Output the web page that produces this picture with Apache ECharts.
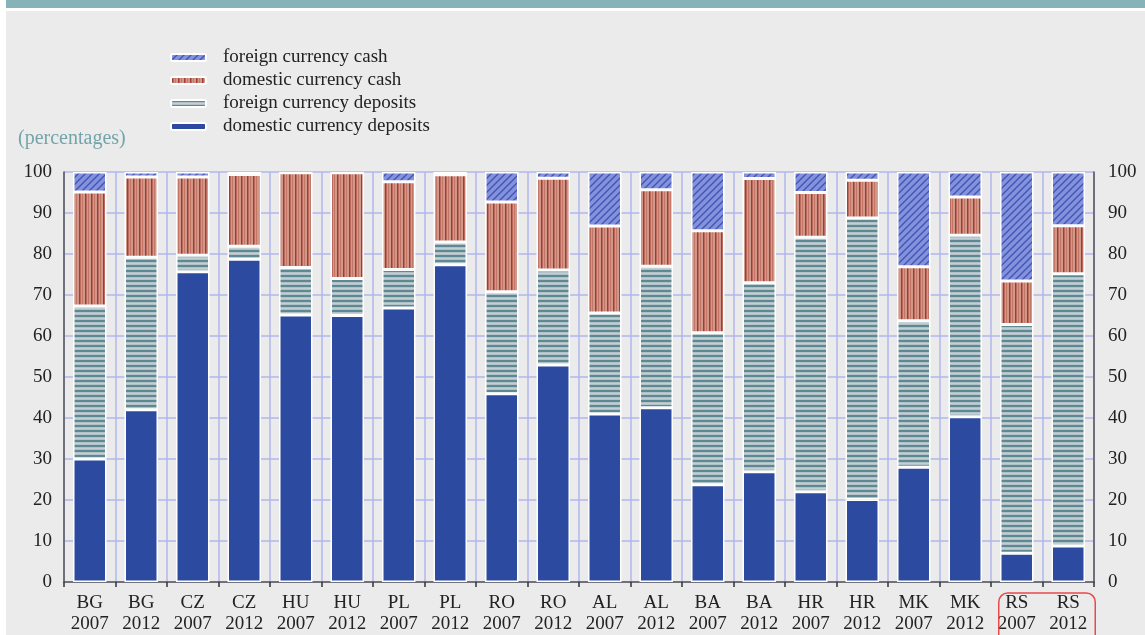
<!DOCTYPE html>
<html>
<head>
<meta charset="utf-8">
<script src="https://cdn.jsdelivr.net/npm/echarts@6/dist/echarts.min.js"></script>
<style>
html,body{margin:0;padding:0;background:#ebebeb;}
#chart{width:1145px;height:635px;}
</style>
</head>
<body>
<div id="chart"></div>
<script>
const categories = ['BG\n2007','BG\n2012','CZ\n2007','CZ\n2012','HU\n2007','HU\n2012','PL\n2007','PL\n2012','RO\n2007','RO\n2012',
  'AL\n2007','AL\n2012','BA\n2007','BA\n2012','HR\n2007','HR\n2012','MK\n2007','MK\n2012','RS\n2007','RS\n2012'];
const domesticDeposits = [30.0, 42.0, 75.7, 78.7, 65.1, 65.0, 66.8, 77.4, 45.9, 52.9, 41.0, 42.5, 23.7, 26.9, 22.0, 20.1, 28.0, 40.3, 7.0, 8.8];
const foreignDeposits  = [37.3, 37.2,  4.0,  3.2, 11.6,  9.0,  9.4,  5.5, 24.9, 23.2, 24.6, 34.5, 37.1, 46.1, 62.1, 68.7, 35.7, 44.3, 55.8, 66.4];
const domesticCash     = [27.8, 19.6, 19.1, 17.5, 23.1, 25.8, 21.4, 16.4, 21.9, 22.4, 21.2, 18.7, 24.9, 25.4, 10.9,  9.2, 13.2,  9.3, 10.6, 11.7];
const foreignCash      = [ 4.9,  1.2,  1.2,  0.6,  0.0,  0.0,  2.4,  0.7,  7.3,  1.5, 13.2,  4.3, 14.3,  1.6,  5.0,  2.0, 23.1,  6.1, 26.6, 13.1];
const yTicks = {min: 0, max: 100, interval: 10};
const seriesNames = ['domestic currency deposits','foreign currency deposits','domestic currency cash','foreign currency cash'];

function mkCanvas(w, h, draw) {
  const c = document.createElement('canvas');
  c.width = w; c.height = h;
  draw(c.getContext('2d'));
  return c;
}
const patFC = mkCanvas(7, 7, g => {
  g.fillStyle = '#8491db'; g.fillRect(0, 0, 7, 7);
  g.strokeStyle = '#3e53b6'; g.lineWidth = 1.3;
  g.beginPath();
  g.moveTo(-1, 8); g.lineTo(8, -1);
  g.moveTo(-4, 4); g.lineTo(4, -4);
  g.moveTo(3, 11); g.lineTo(11, 3);
  g.stroke();
});
const patDC = mkCanvas(6, 4, g => {
  g.fillStyle = '#d0988a'; g.fillRect(0, 0, 6, 4);
  g.fillStyle = '#a63a2f'; g.fillRect(1, 0, 1.5, 4);
  g.fillStyle = '#c27666'; g.fillRect(4, 0, 1, 4);
});
const patFD = mkCanvas(4, 5, g => {
  g.fillStyle = '#b2c1c7'; g.fillRect(0, 0, 4, 5);
  g.fillStyle = '#5d8992'; g.fillRect(0, 0, 4, 2);
  g.fillStyle = '#c3cfd3'; g.fillRect(0, 3, 4, 1);
});
const fills = ['#2b4aa0', {image: patFD, repeat: 'repeat'}, {image: patDC, repeat: 'repeat'}, {image: patFC, repeat: 'repeat'}];
const datas = [domesticDeposits, foreignDeposits, domesticCash, foreignCash];

const serif = 'Liberation Serif';
const gridColor = '#b2b7ee';
const fs = 19;

const chart = echarts.init(document.getElementById('chart'));
const option = {
  backgroundColor: '#ebebeb',
  animation: false,
  textStyle: {fontFamily: serif},
  grid: {left: 64, right: 51, top: 172, bottom: 53, containLabel: false},
  legend: {
    orient: 'vertical', left: 165, top: 43,
    itemWidth: 35, itemHeight: 7, itemGap: 4,
    data: ['foreign currency cash','domestic currency cash','foreign currency deposits','domestic currency deposits'],
    textStyle: {fontFamily: serif, fontSize: fs, color: '#222', padding: [0, 0, 0, 12]},
    selectedMode: false
  },
  xAxis: {
    type: 'category', data: categories, boundaryGap: true,
    axisLine: {lineStyle: {color: '#555', width: 1.5}},
    axisTick: {show: true, length: 5, lineStyle: {color: '#333', width: 1.5}},
    axisLabel: {fontFamily: serif, fontSize: fs, color: '#222', lineHeight: 21, margin: 11, interval: 0},
    splitLine: {show: true, lineStyle: {color: gridColor, width: 1.5}}
  },
  yAxis: [
    {type: 'value', min: yTicks.min, max: yTicks.max, interval: yTicks.interval,
     axisLine: {show: true, lineStyle: {color: '#555', width: 1.5}},
     axisTick: {show: false},
     axisLabel: {fontFamily: serif, fontSize: fs, color: '#222', margin: 12},
     splitLine: {show: true, lineStyle: {color: gridColor, width: 1.5}}},
    {type: 'value', position: 'right', min: yTicks.min, max: yTicks.max, interval: yTicks.interval,
     axisLine: {show: true, lineStyle: {color: '#555', width: 1.5}},
     axisTick: {show: false},
     axisLabel: {fontFamily: serif, fontSize: fs, color: '#222', margin: 14},
     splitLine: {show: false}}
  ],
  series: seriesNames.map((n, i) => ({
    name: n, type: 'bar', stack: 'total', yAxisIndex: 0,
    data: datas[i], barWidth: '65%',
    itemStyle: {color: fills[i], borderColor: '#ffffff', borderWidth: 1.5},
    emphasis: {disabled: true}
  })),
  graphic: [
    {type: 'rect', left: 0, top: 0, shape: {width: 1145, height: 11}, style: {fill: '#ffffff'}, z: 10},
    {type: 'rect', left: 6, top: 0, shape: {width: 1139, height: 8}, style: {fill: '#86b3b7'}, z: 11},
    {type: 'rect', left: 0, top: 0, shape: {width: 6, height: 635}, style: {fill: '#ffffff'}, z: 10},
    {type: 'text', left: 18, top: 129, style: {text: '(percentages)', font: '20px "Liberation Serif"', fill: '#72a4aa'}, z: 10}
  ]
};
chart.setOption(option);

// annotation box around the last two category labels
const p18 = chart.convertToPixel({xAxisIndex: 0}, categories[18]);
const p19 = chart.convertToPixel({xAxisIndex: 0}, categories[19]);
const y0 = chart.convertToPixel({yAxisIndex: 0}, 0);
chart.setOption({graphic: [
  {type: 'rect', id: 'rsbox', shape: {x: p18 - 18, y: y0 + 11, width: (p19 + 27) - (p18 - 18), height: 60, r: 9},
   style: {fill: 'none', stroke: '#e84a4a', lineWidth: 1.5}, z: 12}
]});
</script>
</body>
</html>
